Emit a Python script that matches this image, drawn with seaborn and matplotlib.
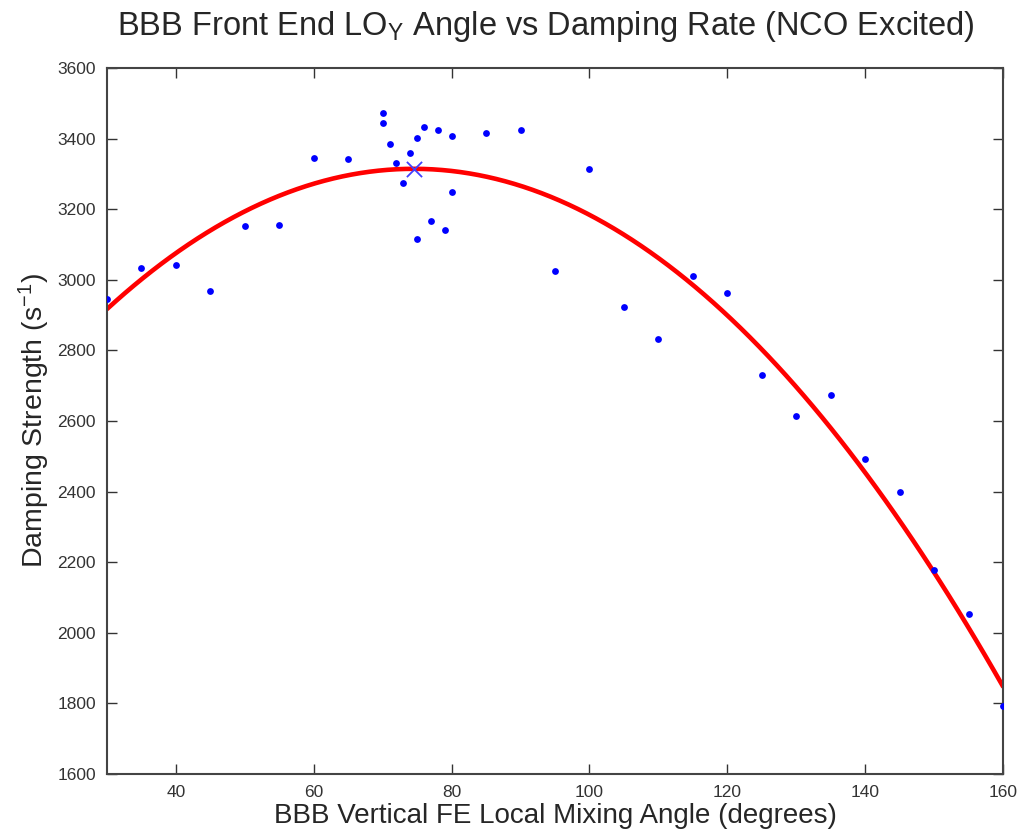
import numpy as np
import pandas as pd
import matplotlib
matplotlib.use("Agg")
import matplotlib.pyplot as plt
import seaborn as sns

angle = [30, 35, 40, 45, 50, 55, 60, 65, 70, 70, 71, 72, 73, 74, 75, 75, 76, 77, 78, 79,
         80, 80, 85, 90, 95, 100, 105, 110, 115, 120, 125, 130, 135, 140, 145, 150, 155, 160]
damping = [2945, 3034, 3042, 2968, 3152, 3155, 3345, 3342, 3473, 3444, 3385, 3331, 3274, 3359,
           3402, 3116, 3433, 3167, 3424, 3141, 3407, 3249, 3416, 3424, 3025, 3314, 2923, 2832,
           3011, 2963, 2730, 2614, 2674, 2492, 2399, 2178, 2053, 1793]
xticks = [40, 60, 80, 100, 120, 140, 160]
yticks = list(range(1600, 3601, 200))

sns.set_style("white")
plt.rcParams['font.family'] = ['Liberation Sans', 'DejaVu Sans']
plt.rcParams['mathtext.fontset'] = 'custom'
plt.rcParams['mathtext.rm'] = 'Liberation Sans'
plt.rcParams['mathtext.it'] = 'Liberation Sans'
plt.rcParams['mathtext.default'] = 'regular'

df = pd.DataFrame({"angle": angle, "damping": damping})

fig = plt.figure(figsize=(10.23, 8.36), dpi=100)
ax = fig.add_axes([0.1046, 0.0742, 0.8759, 0.8445])

sns.regplot(data=df, x="angle", y="damping", order=2, ci=None, ax=ax,
            scatter_kws=dict(s=24, color=(0, 0, 1), alpha=1, linewidths=0, zorder=3),
            line_kws=dict(color=(1, 0, 0), lw=3.3, zorder=2))

coef = np.polyfit(df["angle"], df["damping"], 2)
xv = -coef[1] / (2 * coef[0])
yv = np.polyval(coef, xv)
sns.scatterplot(x=[xv], y=[yv], marker='x', s=120, color=(0.25, 0.25, 1), linewidth=1.3, ax=ax, zorder=4)

ax.set_xlim(30, 160)
ax.set_ylim(1600, 3600)
ax.set_xticks(xticks)
ax.set_yticks(yticks)
ax.tick_params(direction='in', length=7, width=1, labelsize=12.5, labelcolor='#333333',
               color='#333333', top=True, right=True, bottom=True, left=True, pad=8)
for s in ax.spines.values():
    s.set_visible(True)
    s.set_color('#444444')
    s.set_linewidth(1.5)

ax.set_xlabel("BBB Vertical FE Local Mixing Angle (degrees)", fontsize=20, labelpad=2)
ax.set_ylabel("Damping Strength (s$^{-1}$)", fontsize=20.5, labelpad=4)
ax.set_title("BBB Front End LO$_Y$ Angle vs Damping Rate (NCO Excited)", fontsize=23.5,
             pad=24, x=0.49)

fig.savefig("out.png", dpi=100)
